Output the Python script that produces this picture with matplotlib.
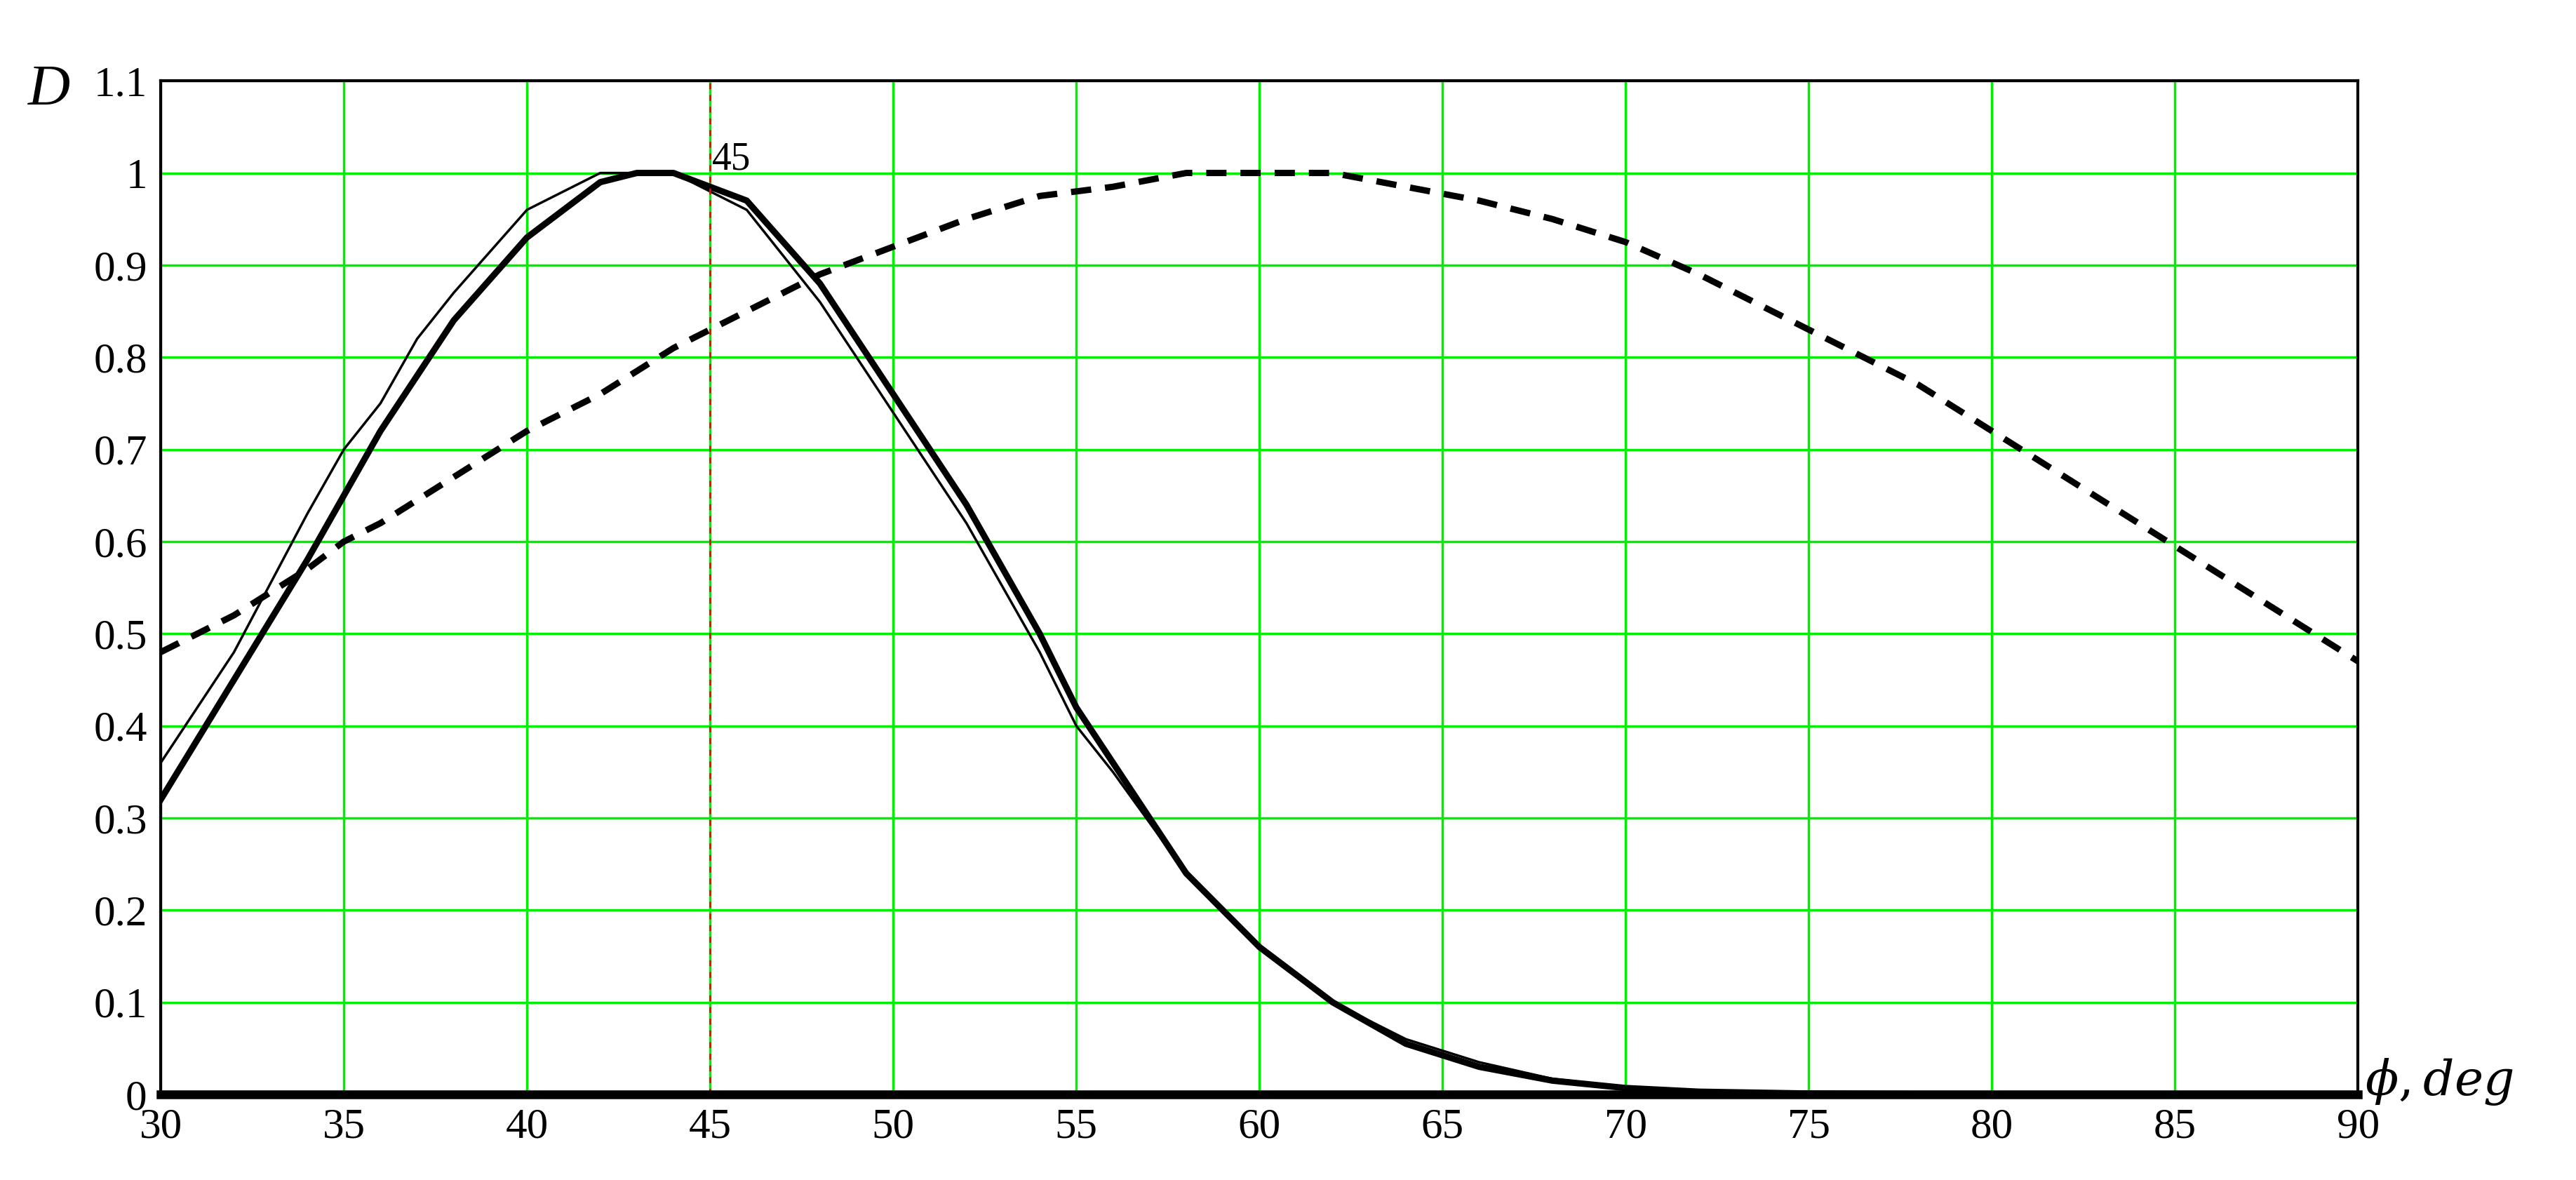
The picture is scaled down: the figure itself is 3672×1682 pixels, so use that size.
import matplotlib.pyplot as plt
import numpy as np

# angle grid, deg
phi = np.array([30, 32, 34, 35, 36, 37, 38, 40, 42, 43, 44, 46, 48, 50, 52, 54, 55, 56, 58, 60,
                62, 64, 66, 68, 70, 72, 75, 80, 85, 90])
# thick solid curve
d_thick = np.array([0.32, 0.45, 0.58, 0.65, 0.72, 0.78, 0.84, 0.93, 0.99, 1.0, 1.0, 0.97, 0.88, 0.76,
                    0.64, 0.50, 0.42, 0.36, 0.24, 0.16, 0.10, 0.055, 0.03, 0.015, 0.007, 0.003,
                    0.001, 0.0, 0.0, 0.0])
# thin solid curve
d_thin = np.array([0.36, 0.48, 0.63, 0.70, 0.75, 0.82, 0.87, 0.96, 1.0, 1.0, 1.0, 0.96, 0.86, 0.74,
                   0.62, 0.48, 0.40, 0.35, 0.24, 0.16, 0.10, 0.06, 0.035, 0.017, 0.008, 0.003,
                   0.001, 0.0, 0.0, 0.0])
# dashed curve
phi_d = np.array([30, 32, 34, 35, 36, 38, 40, 42, 44, 45, 46, 48, 50, 52, 54, 55, 56, 58, 60, 62,
                  64, 66, 68, 70, 72, 74, 75, 76, 78, 80, 82, 84, 85, 86, 88, 90])
d_dash = np.array([0.48, 0.52, 0.57, 0.60, 0.62, 0.67, 0.72, 0.76, 0.81, 0.83, 0.85, 0.89, 0.92,
                   0.95, 0.975, 0.98, 0.985, 1.0, 1.0, 1.0, 0.985, 0.97, 0.95, 0.925, 0.89, 0.85,
                   0.83, 0.81, 0.77, 0.72, 0.67, 0.62, 0.595, 0.57, 0.52, 0.47])

plt.rcParams['font.family'] = ['Liberation Serif', 'DejaVu Serif']
plt.rcParams['mathtext.fontset'] = 'dejavuserif'

fig = plt.figure(figsize=(36.72, 16.82), dpi=100)
ax = fig.add_axes([0.0624, 0.0725, 0.853, 0.859])

ax.plot(phi, d_thin, color='black', lw=2.5)
ax.plot(phi, d_thick, color='black', lw=6.5)
ax.plot(phi_d, d_dash, color='black', lw=6.5, dashes=(3.2, 2.2))
ax.axvline(45, color='red', lw=2, ls=(0, (3, 3)))
ax.text(45.05, 0.995, '45', fontsize=40, ha='left', va='bottom')

ax.set_xlim(30, 90)
ax.set_ylim(0, 1.1)
ax.set_xticks(np.arange(30, 91, 5))
ax.set_yticks(np.round(np.arange(0, 1.11, 0.1), 1))
ax.set_yticklabels(['0', '0.1', '0.2', '0.3', '0.4', '0.5', '0.6', '0.7', '0.8', '0.9', '1', '1.1'])
ax.grid(True, color='#00ee00', lw=2.5)
ax.tick_params(length=0, labelsize=44, pad=14)
for s in ['left', 'top', 'right']:
    ax.spines[s].set_linewidth(3)
ax.spines['bottom'].set_linewidth(9)

fig.text(0.011, 0.923, 'D', fontsize=60, style='italic', va='center')
fig.text(0.918, 0.083, r'$\phi, deg$', fontsize=50, va='center')

plt.savefig('out.png')
